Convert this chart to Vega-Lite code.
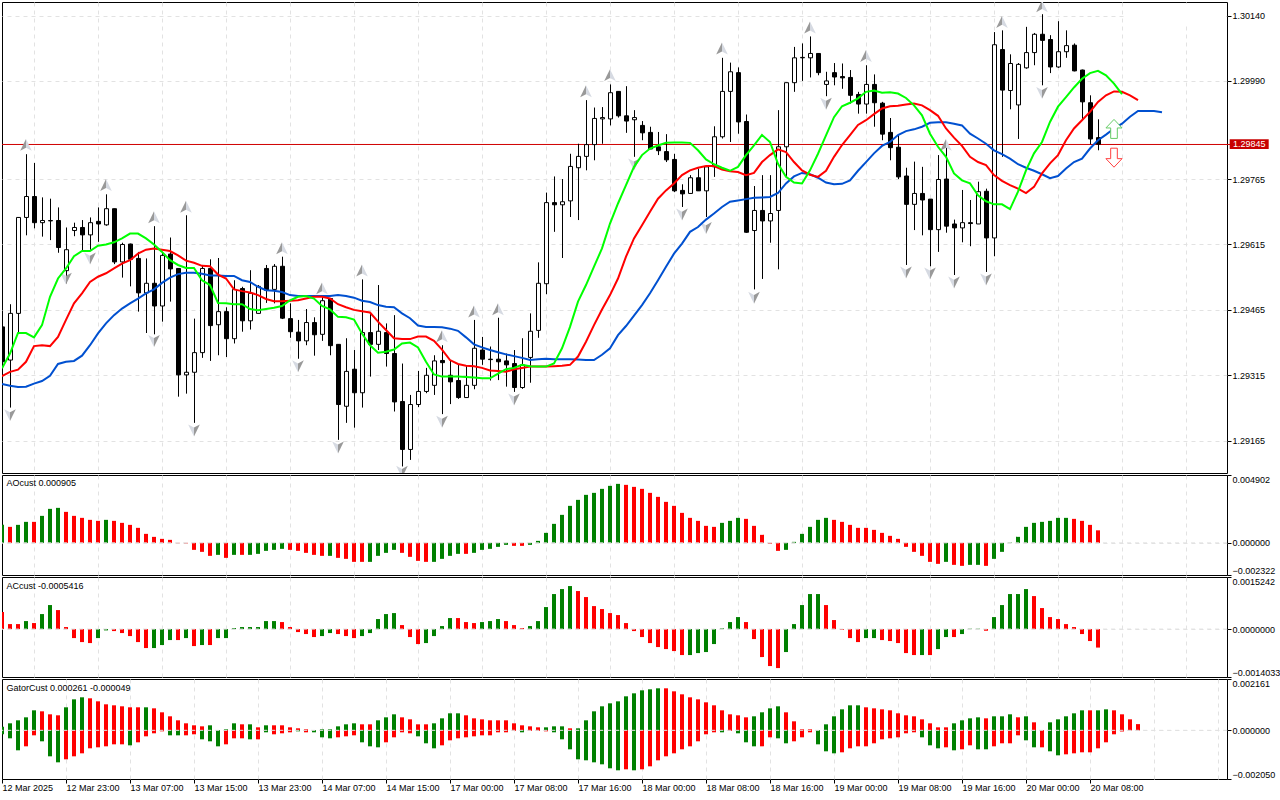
{
  "$schema": "https://vega.github.io/schema/vega-lite/v6.json",
  "description": "GBPUSD style hourly candles with alligator lines, AO, AC and Gator panels",
  "background": "#ffffff",
  "padding": {"left": 1, "top": 1, "right": 0, "bottom": 0},
  "spacing": 2,
  "bounds": "flush",
  "config": {
    "view": {"stroke": "#000000", "strokeWidth": 1},
    "axis": {
      "title": null,
      "domain": false,
      "gridColor": "#e2e2e2",
      "gridDash": [4, 4],
      "gridWidth": 1,
      "labelFont": "Liberation Sans",
      "labelFontSize": 9,
      "labelColor": "#000000",
      "labelOverlap": false,
      "labelBound": false,
      "tickColor": "#000000",
      "tickSize": 4,
      "labelPadding": 1
    },
    "text": {"font": "Liberation Sans", "fontSize": 9, "color": "#000000"}
  },
  "datasets": {
    "candles": [
      {"i":0,"o":1.29426,"h":1.29449,"l":1.29331,"c":1.29346},
      {"i":1,"o":1.29350,"h":1.29478,"l":1.29241,"c":1.29457},
      {"i":2,"o":1.29457,"h":1.29678,"l":1.29411,"c":1.29677},
      {"i":3,"o":1.29677,"h":1.29822,"l":1.29636,"c":1.29725},
      {"i":4,"o":1.29725,"h":1.29802,"l":1.29652,"c":1.29665},
      {"i":5,"o":1.29665,"h":1.29723,"l":1.29633,"c":1.29670},
      {"i":6,"o":1.29669,"h":1.29720,"l":1.29625,"c":1.29670},
      {"i":7,"o":1.29670,"h":1.29700,"l":1.29596,"c":1.29608},
      {"i":8,"o":1.29555,"h":1.29654,"l":1.29526,"c":1.29603},
      {"i":9,"o":1.29647,"h":1.29665,"l":1.29634,"c":1.29654},
      {"i":10,"o":1.29654,"h":1.29671,"l":1.29598,"c":1.29637},
      {"i":11,"o":1.29637,"h":1.29677,"l":1.29603,"c":1.29665},
      {"i":12,"o":1.29668,"h":1.29700,"l":1.29621,"c":1.29662},
      {"i":13,"o":1.29660,"h":1.29730,"l":1.29658,"c":1.29697},
      {"i":14,"o":1.29697,"h":1.29697,"l":1.29570,"c":1.29575},
      {"i":15,"o":1.29575,"h":1.29619,"l":1.29539,"c":1.29615},
      {"i":16,"o":1.29616,"h":1.29617,"l":1.29519,"c":1.29581},
      {"i":17,"o":1.29583,"h":1.29598,"l":1.29461,"c":1.29504},
      {"i":18,"o":1.29504,"h":1.29583,"l":1.29412,"c":1.29526},
      {"i":19,"o":1.29526,"h":1.29657,"l":1.29409,"c":1.29474},
      {"i":20,"o":1.29474,"h":1.29598,"l":1.29438,"c":1.29590},
      {"i":21,"o":1.29593,"h":1.29631,"l":1.29484,"c":1.29559},
      {"i":22,"o":1.29560,"h":1.29560,"l":1.29266,"c":1.29316},
      {"i":23,"o":1.29316,"h":1.29682,"l":1.29273,"c":1.29322},
      {"i":24,"o":1.29322,"h":1.29445,"l":1.29206,"c":1.29367},
      {"i":25,"o":1.29367,"h":1.29568,"l":1.29355,"c":1.29560},
      {"i":26,"o":1.29560,"h":1.29581,"l":1.29348,"c":1.29429},
      {"i":27,"o":1.29431,"h":1.29584,"l":1.29361,"c":1.29461},
      {"i":28,"o":1.29461,"h":1.29471,"l":1.29357,"c":1.29399},
      {"i":29,"o":1.29399,"h":1.29533,"l":1.29388,"c":1.29512},
      {"i":30,"o":1.29514,"h":1.29518,"l":1.29415,"c":1.29440},
      {"i":31,"o":1.29440,"h":1.29556,"l":1.29420,"c":1.29503},
      {"i":32,"o":1.29457,"h":1.29522,"l":1.29457,"c":1.29519},
      {"i":33,"o":1.29560,"h":1.29568,"l":1.29481,"c":1.29510},
      {"i":34,"o":1.29512,"h":1.29570,"l":1.29480,"c":1.29565},
      {"i":35,"o":1.29565,"h":1.29587,"l":1.29444,"c":1.29446},
      {"i":36,"o":1.29445,"h":1.29480,"l":1.29401,"c":1.29415},
      {"i":37,"o":1.29414,"h":1.29442,"l":1.29353,"c":1.29394},
      {"i":38,"o":1.29394,"h":1.29467,"l":1.29384,"c":1.29436},
      {"i":39,"o":1.29436,"h":1.29448,"l":1.29360,"c":1.29408},
      {"i":40,"o":1.29409,"h":1.29495,"l":1.29394,"c":1.29486},
      {"i":41,"o":1.29491,"h":1.29491,"l":1.29361,"c":1.29383},
      {"i":42,"o":1.29386,"h":1.29386,"l":1.29167,"c":1.29248},
      {"i":43,"o":1.29244,"h":1.29400,"l":1.29206,"c":1.29324},
      {"i":44,"o":1.29329,"h":1.29373,"l":1.29195,"c":1.29275},
      {"i":45,"o":1.29275,"h":1.29535,"l":1.29241,"c":1.29413},
      {"i":46,"o":1.29413,"h":1.29457,"l":1.29312,"c":1.29386},
      {"i":47,"o":1.29386,"h":1.29522,"l":1.29373,"c":1.29416},
      {"i":48,"o":1.29413,"h":1.29434,"l":1.29335,"c":1.29365},
      {"i":49,"o":1.29365,"h":1.29453,"l":1.29232,"c":1.29254},
      {"i":50,"o":1.29255,"h":1.29342,"l":1.29106,"c":1.29145},
      {"i":51,"o":1.29145,"h":1.29270,"l":1.29121,"c":1.29248},
      {"i":52,"o":1.29248,"h":1.29325,"l":1.29242,"c":1.29278},
      {"i":53,"o":1.29278,"h":1.29332,"l":1.29274,"c":1.29315},
      {"i":54,"o":1.29292,"h":1.29361,"l":1.29270,"c":1.29348},
      {"i":55,"o":1.29349,"h":1.29384,"l":1.29226,"c":1.29344},
      {"i":56,"o":1.29315,"h":1.29348,"l":1.29249,"c":1.29300},
      {"i":57,"o":1.29303,"h":1.29341,"l":1.29261,"c":1.29264},
      {"i":58,"o":1.29264,"h":1.29336,"l":1.29264,"c":1.29292},
      {"i":59,"o":1.29292,"h":1.29442,"l":1.29283,"c":1.29377},
      {"i":60,"o":1.29373,"h":1.29403,"l":1.29339,"c":1.29352},
      {"i":61,"o":1.29352,"h":1.29381,"l":1.29303,"c":1.29351},
      {"i":62,"o":1.29352,"h":1.29447,"l":1.29304,"c":1.29346},
      {"i":63,"o":1.29348,"h":1.29365,"l":1.29289,"c":1.29339},
      {"i":64,"o":1.29342,"h":1.29373,"l":1.29277,"c":1.29287},
      {"i":65,"o":1.29287,"h":1.29400,"l":1.29284,"c":1.29339},
      {"i":66,"o":1.29356,"h":1.29457,"l":1.29298,"c":1.29416},
      {"i":67,"o":1.29418,"h":1.29574,"l":1.29401,"c":1.29526},
      {"i":68,"o":1.29525,"h":1.29734,"l":1.29501,"c":1.29711},
      {"i":69,"o":1.29711,"h":1.29771,"l":1.29644,"c":1.29706},
      {"i":70,"o":1.29706,"h":1.29765,"l":1.29584,"c":1.29713},
      {"i":71,"o":1.29715,"h":1.29823,"l":1.29678,"c":1.29794},
      {"i":72,"o":1.29791,"h":1.29846,"l":1.29671,"c":1.29817},
      {"i":73,"o":1.29817,"h":1.29946,"l":1.29785,"c":1.29844},
      {"i":74,"o":1.29844,"h":1.29929,"l":1.29808,"c":1.29904},
      {"i":75,"o":1.29903,"h":1.29930,"l":1.29846,"c":1.29906},
      {"i":76,"o":1.29903,"h":1.29982,"l":1.29888,"c":1.29963},
      {"i":77,"o":1.29966,"h":1.29966,"l":1.29906,"c":1.29910},
      {"i":78,"o":1.29910,"h":1.29978,"l":1.29871,"c":1.29898},
      {"i":79,"o":1.29901,"h":1.29923,"l":1.29816,"c":1.29906},
      {"i":80,"o":1.29888,"h":1.29898,"l":1.29854,"c":1.29871},
      {"i":81,"o":1.29872,"h":1.29885,"l":1.29834,"c":1.29834},
      {"i":82,"o":1.29839,"h":1.29873,"l":1.29820,"c":1.29830},
      {"i":83,"o":1.29828,"h":1.29868,"l":1.29804,"c":1.29809},
      {"i":84,"o":1.29810,"h":1.29823,"l":1.29735,"c":1.29738},
      {"i":85,"o":1.29739,"h":1.29753,"l":1.29701,"c":1.29731},
      {"i":86,"o":1.29732,"h":1.29774,"l":1.29732,"c":1.29768},
      {"i":87,"o":1.29768,"h":1.29789,"l":1.29738,"c":1.29738},
      {"i":88,"o":1.29738,"h":1.29797,"l":1.29678,"c":1.29793},
      {"i":89,"o":1.29793,"h":1.29886,"l":1.29770,"c":1.29862},
      {"i":90,"o":1.29862,"h":1.30043,"l":1.29858,"c":1.29966},
      {"i":91,"o":1.29966,"h":1.30032,"l":1.29850,"c":1.30011},
      {"i":92,"o":1.30009,"h":1.30021,"l":1.29869,"c":1.29896},
      {"i":93,"o":1.29897,"h":1.29913,"l":1.29642,"c":1.29643},
      {"i":94,"o":1.29647,"h":1.29749,"l":1.29512,"c":1.29693},
      {"i":95,"o":1.29693,"h":1.29774,"l":1.29536,"c":1.29669},
      {"i":96,"o":1.29669,"h":1.29774,"l":1.29619,"c":1.29686},
      {"i":97,"o":1.29693,"h":1.29923,"l":1.29558,"c":1.29839},
      {"i":98,"o":1.29839,"h":1.29986,"l":1.29768,"c":1.29986},
      {"i":99,"o":1.29986,"h":1.30068,"l":1.29965,"c":1.30043},
      {"i":100,"o":1.30043,"h":1.30076,"l":1.29990,"c":1.30044},
      {"i":101,"o":1.30043,"h":1.30092,"l":1.29998,"c":1.30053},
      {"i":102,"o":1.30053,"h":1.30053,"l":1.30003,"c":1.30009},
      {"i":103,"o":1.29982,"h":1.30011,"l":1.29955,"c":1.29990},
      {"i":104,"o":1.30009,"h":1.30031,"l":1.29980,"c":1.29999},
      {"i":105,"o":1.30000,"h":1.30030,"l":1.29972,"c":1.29997},
      {"i":106,"o":1.29998,"h":1.30015,"l":1.29938,"c":1.29957},
      {"i":107,"o":1.29959,"h":1.29965,"l":1.29915,"c":1.29937},
      {"i":108,"o":1.29937,"h":1.30026,"l":1.29915,"c":1.29982},
      {"i":109,"o":1.29982,"h":1.30005,"l":1.29885,"c":1.29940},
      {"i":110,"o":1.29939,"h":1.29942,"l":1.29854,"c":1.29868},
      {"i":111,"o":1.29872,"h":1.29905,"l":1.29808,"c":1.29837},
      {"i":112,"o":1.29838,"h":1.29866,"l":1.29765,"c":1.29770},
      {"i":113,"o":1.29772,"h":1.29791,"l":1.29568,"c":1.29707},
      {"i":114,"o":1.29707,"h":1.29805,"l":1.29648,"c":1.29732},
      {"i":115,"o":1.29732,"h":1.29793,"l":1.29636,"c":1.29717},
      {"i":116,"o":1.29719,"h":1.29719,"l":1.29565,"c":1.29649},
      {"i":117,"o":1.29649,"h":1.29820,"l":1.29598,"c":1.29764},
      {"i":118,"o":1.29765,"h":1.29846,"l":1.29642,"c":1.29657},
      {"i":119,"o":1.29662,"h":1.29672,"l":1.29545,"c":1.29653},
      {"i":120,"o":1.29653,"h":1.29740,"l":1.29620,"c":1.29665},
      {"i":121,"o":1.29665,"h":1.29717,"l":1.29611,"c":1.29663},
      {"i":122,"o":1.29662,"h":1.29759,"l":1.29662,"c":1.29736},
      {"i":123,"o":1.29737,"h":1.29743,"l":1.29552,"c":1.29630},
      {"i":124,"o":1.29630,"h":1.30102,"l":1.29588,"c":1.30073},
      {"i":125,"o":1.30062,"h":1.30106,"l":1.29816,"c":1.29969},
      {"i":126,"o":1.29968,"h":1.30051,"l":1.29925,"c":1.30030},
      {"i":127,"o":1.29935,"h":1.30031,"l":1.29857,"c":1.30028},
      {"i":128,"o":1.30020,"h":1.30114,"l":1.30018,"c":1.30055},
      {"i":129,"o":1.30055,"h":1.30100,"l":1.30026,"c":1.30097},
      {"i":130,"o":1.30097,"h":1.30143,"l":1.29980,"c":1.30083},
      {"i":131,"o":1.30085,"h":1.30095,"l":1.30008,"c":1.30022},
      {"i":132,"o":1.30022,"h":1.30127,"l":1.30020,"c":1.30057},
      {"i":133,"o":1.30057,"h":1.30106,"l":1.30043,"c":1.30071},
      {"i":134,"o":1.30072,"h":1.30076,"l":1.30012,"c":1.30013},
      {"i":135,"o":1.30015,"h":1.30016,"l":1.29901,"c":1.29942},
      {"i":136,"o":1.29940,"h":1.29957,"l":1.29845,"c":1.29857},
      {"i":137,"o":1.29860,"h":1.29902,"l":1.29831,"c":1.29845}
    ],
    "gator": [
      {"i":0,"jaw":1.29295,"teeth":1.29313,"lips":1.29331},{"i":1,"jaw":1.29291,"teeth":1.29323,"lips":1.29365},
      {"i":2,"jaw":1.29288,"teeth":1.29328,"lips":1.29412},{"i":3,"jaw":1.29289,"teeth":1.29346,"lips":1.29412},
      {"i":4,"jaw":1.29296,"teeth":1.29382,"lips":1.29402},{"i":5,"jaw":1.29302,"teeth":1.29384,"lips":1.29430},
      {"i":6,"jaw":1.29314,"teeth":1.29382,"lips":1.29495},{"i":7,"jaw":1.29341,"teeth":1.29403,"lips":1.29537},
      {"i":8,"jaw":1.29346,"teeth":1.29442,"lips":1.29560},{"i":9,"jaw":1.29348,"teeth":1.29480,"lips":1.29588},
      {"i":10,"jaw":1.29360,"teeth":1.29503,"lips":1.29600},{"i":11,"jaw":1.29384,"teeth":1.29529,"lips":1.29600},
      {"i":12,"jaw":1.29411,"teeth":1.29541,"lips":1.29612},{"i":13,"jaw":1.29434,"teeth":1.29549,"lips":1.29615},
      {"i":14,"jaw":1.29453,"teeth":1.29560,"lips":1.29620},{"i":15,"jaw":1.29468,"teeth":1.29571,"lips":1.29629},
      {"i":16,"jaw":1.29480,"teeth":1.29579,"lips":1.29640},{"i":17,"jaw":1.29491,"teeth":1.29594,"lips":1.29640},
      {"i":18,"jaw":1.29503,"teeth":1.29603,"lips":1.29629},{"i":19,"jaw":1.29512,"teeth":1.29606,"lips":1.29615},
      {"i":20,"jaw":1.29527,"teeth":1.29603,"lips":1.29598},{"i":21,"jaw":1.29539,"teeth":1.29600,"lips":1.29579},
      {"i":22,"jaw":1.29547,"teeth":1.29590,"lips":1.29568},{"i":23,"jaw":1.29550,"teeth":1.29578,"lips":1.29561},
      {"i":24,"jaw":1.29550,"teeth":1.29573,"lips":1.29561},{"i":25,"jaw":1.29548,"teeth":1.29566,"lips":1.29533},
      {"i":26,"jaw":1.29544,"teeth":1.29565,"lips":1.29522},{"i":27,"jaw":1.29544,"teeth":1.29546,"lips":1.29481},
      {"i":28,"jaw":1.29543,"teeth":1.29537,"lips":1.29480},{"i":29,"jaw":1.29543,"teeth":1.29512,"lips":1.29478},
      {"i":30,"jaw":1.29533,"teeth":1.29508,"lips":1.29478},{"i":31,"jaw":1.29529,"teeth":1.29505,"lips":1.29467},
      {"i":32,"jaw":1.29518,"teeth":1.29499,"lips":1.29464},{"i":33,"jaw":1.29510,"teeth":1.29490,"lips":1.29467},
      {"i":34,"jaw":1.29509,"teeth":1.29485,"lips":1.29470},{"i":35,"jaw":1.29506,"teeth":1.29485,"lips":1.29474},
      {"i":36,"jaw":1.29499,"teeth":1.29486,"lips":1.29487},{"i":37,"jaw":1.29497,"teeth":1.29487,"lips":1.29495},
      {"i":38,"jaw":1.29497,"teeth":1.29491,"lips":1.29497},{"i":39,"jaw":1.29497,"teeth":1.29495,"lips":1.29491},
      {"i":40,"jaw":1.29497,"teeth":1.29495,"lips":1.29474},{"i":41,"jaw":1.29497,"teeth":1.29491,"lips":1.29466},
      {"i":42,"jaw":1.29499,"teeth":1.29478,"lips":1.29449},{"i":43,"jaw":1.29497,"teeth":1.29471,"lips":1.29448},
      {"i":44,"jaw":1.29493,"teeth":1.29465,"lips":1.29443},{"i":45,"jaw":1.29486,"teeth":1.29462,"lips":1.29411},
      {"i":46,"jaw":1.29483,"teeth":1.29459,"lips":1.29384},{"i":47,"jaw":1.29476,"teeth":1.29438,"lips":1.29367},
      {"i":48,"jaw":1.29472,"teeth":1.29419,"lips":1.29369},{"i":49,"jaw":1.29471,"teeth":1.29400,"lips":1.29374},
      {"i":50,"jaw":1.29457,"teeth":1.29398,"lips":1.29388},{"i":51,"jaw":1.29446,"teeth":1.29398,"lips":1.29390},
      {"i":52,"jaw":1.29429,"teeth":1.29404,"lips":1.29379},{"i":53,"jaw":1.29426,"teeth":1.29404,"lips":1.29346},
      {"i":54,"jaw":1.29426,"teeth":1.29394,"lips":1.29317},{"i":55,"jaw":1.29425,"teeth":1.29374,"lips":1.29312},
      {"i":56,"jaw":1.29422,"teeth":1.29350,"lips":1.29312},{"i":57,"jaw":1.29417,"teeth":1.29341,"lips":1.29312},
      {"i":58,"jaw":1.29402,"teeth":1.29337,"lips":1.29311},{"i":59,"jaw":1.29386,"teeth":1.29336,"lips":1.29310},
      {"i":60,"jaw":1.29379,"teeth":1.29332,"lips":1.29308},{"i":61,"jaw":1.29373,"teeth":1.29326,"lips":1.29308},
      {"i":62,"jaw":1.29368,"teeth":1.29325,"lips":1.29319},{"i":63,"jaw":1.29363,"teeth":1.29323,"lips":1.29329},
      {"i":64,"jaw":1.29359,"teeth":1.29329,"lips":1.29332},{"i":65,"jaw":1.29355,"teeth":1.29332,"lips":1.29339},
      {"i":66,"jaw":1.29350,"teeth":1.29335,"lips":1.29336},{"i":67,"jaw":1.29352,"teeth":1.29335,"lips":1.29335},
      {"i":68,"jaw":1.29353,"teeth":1.29335,"lips":1.29335},{"i":69,"jaw":1.29352,"teeth":1.29336,"lips":1.29342},
      {"i":70,"jaw":1.29352,"teeth":1.29337,"lips":1.29377},{"i":71,"jaw":1.29352,"teeth":1.29339,"lips":1.29426},
      {"i":72,"jaw":1.29351,"teeth":1.29358,"lips":1.29484},{"i":73,"jaw":1.29350,"teeth":1.29392,"lips":1.29522},
      {"i":74,"jaw":1.29350,"teeth":1.29430,"lips":1.29564},{"i":75,"jaw":1.29362,"teeth":1.29466,"lips":1.29606},
      {"i":76,"jaw":1.29377,"teeth":1.29499,"lips":1.29663},{"i":77,"jaw":1.29407,"teeth":1.29537,"lips":1.29709},
      {"i":78,"jaw":1.29428,"teeth":1.29587,"lips":1.29751},{"i":79,"jaw":1.29452,"teeth":1.29629,"lips":1.29793},
      {"i":80,"jaw":1.29476,"teeth":1.29659,"lips":1.29820},{"i":81,"jaw":1.29503,"teeth":1.29690,"lips":1.29835},
      {"i":82,"jaw":1.29533,"teeth":1.29720,"lips":1.29842},{"i":83,"jaw":1.29564,"teeth":1.29739,"lips":1.29848},
      {"i":84,"jaw":1.29594,"teeth":1.29755,"lips":1.29849},{"i":85,"jaw":1.29617,"teeth":1.29774,"lips":1.29849},
      {"i":86,"jaw":1.29644,"teeth":1.29785,"lips":1.29848},{"i":87,"jaw":1.29655,"teeth":1.29791,"lips":1.29831},
      {"i":88,"jaw":1.29672,"teeth":1.29795,"lips":1.29810},{"i":89,"jaw":1.29686,"teeth":1.29795,"lips":1.29799},
      {"i":90,"jaw":1.29701,"teeth":1.29787,"lips":1.29791},{"i":91,"jaw":1.29713,"teeth":1.29783,"lips":1.29784},
      {"i":92,"jaw":1.29716,"teeth":1.29781,"lips":1.29793},{"i":93,"jaw":1.29719,"teeth":1.29774,"lips":1.29820},
      {"i":94,"jaw":1.29722,"teeth":1.29779,"lips":1.29842},{"i":95,"jaw":1.29723,"teeth":1.29804,"lips":1.29866},
      {"i":96,"jaw":1.29724,"teeth":1.29820,"lips":1.29850},{"i":97,"jaw":1.29733,"teeth":1.29833,"lips":1.29800},
      {"i":98,"jaw":1.29755,"teeth":1.29827,"lips":1.29770},{"i":99,"jaw":1.29771,"teeth":1.29804,"lips":1.29757},
      {"i":100,"jaw":1.29779,"teeth":1.29785,"lips":1.29755},{"i":101,"jaw":1.29776,"teeth":1.29775,"lips":1.29785},
      {"i":102,"jaw":1.29768,"teeth":1.29770,"lips":1.29823},{"i":103,"jaw":1.29757,"teeth":1.29784,"lips":1.29865},
      {"i":104,"jaw":1.29753,"teeth":1.29816,"lips":1.29907},{"i":105,"jaw":1.29754,"teeth":1.29843,"lips":1.29932},
      {"i":106,"jaw":1.29762,"teeth":1.29866,"lips":1.29940},{"i":107,"jaw":1.29784,"teeth":1.29889,"lips":1.29950},
      {"i":108,"jaw":1.29804,"teeth":1.29900,"lips":1.29965},{"i":109,"jaw":1.29824,"teeth":1.29914,"lips":1.29968},
      {"i":110,"jaw":1.29841,"teeth":1.29927,"lips":1.29963},{"i":111,"jaw":1.29850,"teeth":1.29932,"lips":1.29964},
      {"i":112,"jaw":1.29866,"teeth":1.29933,"lips":1.29961},{"i":113,"jaw":1.29875,"teeth":1.29936,"lips":1.29951},
      {"i":114,"jaw":1.29879,"teeth":1.29938,"lips":1.29934},{"i":115,"jaw":1.29885,"teeth":1.29934,"lips":1.29911},
      {"i":116,"jaw":1.29894,"teeth":1.29923,"lips":1.29869},{"i":117,"jaw":1.29895,"teeth":1.29910,"lips":1.29839},
      {"i":118,"jaw":1.29895,"teeth":1.29881,"lips":1.29816},{"i":119,"jaw":1.29892,"teeth":1.29860,"lips":1.29778},
      {"i":120,"jaw":1.29888,"teeth":1.29841,"lips":1.29762},{"i":121,"jaw":1.29869,"teeth":1.29816,"lips":1.29755},
      {"i":122,"jaw":1.29858,"teeth":1.29804,"lips":1.29728},{"i":123,"jaw":1.29846,"teeth":1.29797,"lips":1.29714},
      {"i":124,"jaw":1.29831,"teeth":1.29774,"lips":1.29707},{"i":125,"jaw":1.29822,"teeth":1.29761,"lips":1.29707},
      {"i":126,"jaw":1.29812,"teeth":1.29751,"lips":1.29696},{"i":127,"jaw":1.29799,"teeth":1.29743,"lips":1.29736},
      {"i":128,"jaw":1.29791,"teeth":1.29733,"lips":1.29785},{"i":129,"jaw":1.29784,"teeth":1.29747,"lips":1.29824},
      {"i":130,"jaw":1.29776,"teeth":1.29778,"lips":1.29850},{"i":131,"jaw":1.29767,"teeth":1.29801,"lips":1.29896},
      {"i":132,"jaw":1.29772,"teeth":1.29820,"lips":1.29931},{"i":133,"jaw":1.29789,"teeth":1.29854,"lips":1.29953},
      {"i":134,"jaw":1.29804,"teeth":1.29881,"lips":1.29975},{"i":135,"jaw":1.29812,"teeth":1.29900,"lips":1.29995},
      {"i":136,"jaw":1.29835,"teeth":1.29919,"lips":1.30008},{"i":137,"jaw":1.29854,"teeth":1.29942,"lips":1.30013},
      {"i":138,"jaw":1.29867,"teeth":1.29957,"lips":1.30003},{"i":139,"jaw":1.29881,"teeth":1.29966,"lips":1.29984},
      {"i":140,"jaw":1.29892,"teeth":1.29965,"lips":1.29960},{"i":141,"jaw":1.29908,"teeth":1.29957,"lips":null},
      {"i":142,"jaw":1.29921,"teeth":1.29946,"lips":null},{"i":143,"jaw":1.29921,"teeth":null,"lips":null},
      {"i":144,"jaw":1.29921,"teeth":null,"lips":null},{"i":145,"jaw":1.29918,"teeth":null,"lips":null}
    ],
    "fractals": [
      {"i":3,"price":1.29843,"kind":"up"},{"i":13,"price":1.29751,"kind":"up"},{"i":19,"price":1.29677,"kind":"up"},
      {"i":23,"price":1.29701,"kind":"up"},{"i":35,"price":1.29606,"kind":"up"},{"i":40,"price":1.29514,"kind":"up"},
      {"i":45,"price":1.29555,"kind":"up"},{"i":55,"price":1.29404,"kind":"up"},{"i":59,"price":1.29461,"kind":"up"},
      {"i":62,"price":1.29466,"kind":"up"},{"i":73,"price":1.29966,"kind":"up"},{"i":76,"price":1.30003,"kind":"up"},
      {"i":90,"price":1.30064,"kind":"up"},{"i":101,"price":1.30112,"kind":"up"},{"i":108,"price":1.30047,"kind":"up"},
      {"i":118,"price":1.29843,"kind":"up"},{"i":125,"price":1.30125,"kind":"up"},{"i":130,"price":1.30161,"kind":"up"},
      {"i":1,"price":1.29224,"kind":"down"},{"i":8,"price":1.29537,"kind":"down"},{"i":11,"price":1.29583,"kind":"down"},
      {"i":19,"price":1.29394,"kind":"down"},{"i":24,"price":1.29189,"kind":"down"},{"i":37,"price":1.29336,"kind":"down"},
      {"i":42,"price":1.29150,"kind":"down"},{"i":50,"price":1.29094,"kind":"down"},{"i":55,"price":1.29209,"kind":"down"},
      {"i":64,"price":1.29260,"kind":"down"},{"i":79,"price":1.29799,"kind":"down"},{"i":85,"price":1.29684,"kind":"down"},
      {"i":88,"price":1.29653,"kind":"down"},{"i":94,"price":1.29493,"kind":"down"},{"i":103,"price":1.29938,"kind":"down"},
      {"i":113,"price":1.29551,"kind":"down"},{"i":116,"price":1.29549,"kind":"down"},{"i":119,"price":1.29528,"kind":"down"},
      {"i":123,"price":1.29535,"kind":"down"},{"i":130,"price":1.29963,"kind":"down"}
    ],
    "osc": [
      {"i":0,"ao":0.0013,"aod":"u","ac":0.000498,"acd":"d"},{"i":1,"ao":0.001156,"aod":"d","ac":0.000146,"acd":"d"},
      {"i":2,"ao":0.0013,"aod":"u","ac":0.000146,"acd":"d"},{"i":3,"ao":0.001517,"aod":"u","ac":0.000234,"acd":"u"},
      {"i":4,"ao":0.001517,"aod":"d","ac":0.000176,"acd":"d"},{"i":5,"ao":0.00195,"aod":"u","ac":0.000439,"acd":"u"},
      {"i":6,"ao":0.002456,"aod":"u","ac":0.000703,"acd":"u"},{"i":7,"ao":0.002528,"aod":"u","ac":0.000556,"acd":"d"},
      {"i":8,"ao":0.002239,"aod":"d","ac":0.000059,"acd":"d"},{"i":9,"ao":0.00195,"aod":"d","ac":-0.000264,"acd":"d"},
      {"i":10,"ao":0.001806,"aod":"d","ac":-0.000381,"acd":"d"},{"i":11,"ao":0.001662,"aod":"d","ac":-0.00041,"acd":"d"},
      {"i":12,"ao":0.001589,"aod":"d","ac":-0.000264,"acd":"u"},{"i":13,"ao":0.001662,"aod":"u","ac":-0.000039,"acd":"u"},
      {"i":14,"ao":0.001589,"aod":"d","ac":-0.000059,"acd":"d"},{"i":15,"ao":0.001445,"aod":"d","ac":-0.000117,"acd":"d"},
      {"i":16,"ao":0.0013,"aod":"d","ac":-0.000205,"acd":"d"},{"i":17,"ao":0.001084,"aod":"d","ac":-0.000381,"acd":"d"},
      {"i":18,"ao":0.00065,"aod":"d","ac":-0.000556,"acd":"d"},{"i":19,"ao":0.000433,"aod":"d","ac":-0.000556,"acd":"u"},
      {"i":20,"ao":0.000289,"aod":"d","ac":-0.000468,"acd":"u"},{"i":21,"ao":0.000217,"aod":"d","ac":-0.000322,"acd":"u"},
      {"i":22,"ao":-0.00002,"aod":"d","ac":-0.000322,"acd":"d"},{"i":23,"ao":-0.00003,"aod":"d","ac":-0.000264,"acd":"u"},
      {"i":24,"ao":-0.000506,"aod":"d","ac":-0.000498,"acd":"d"},{"i":25,"ao":-0.00065,"aod":"d","ac":-0.000468,"acd":"u"},
      {"i":26,"ao":-0.000939,"aod":"d","ac":-0.000468,"acd":"d"},{"i":27,"ao":-0.000867,"aod":"u","ac":-0.000264,"acd":"u"},
      {"i":28,"ao":-0.001084,"aod":"d","ac":-0.000264,"acd":"u"},{"i":29,"ao":-0.000867,"aod":"u","ac":0.000029,"acd":"u"},
      {"i":30,"ao":-0.000867,"aod":"d","ac":0.000059,"acd":"u"},{"i":31,"ao":-0.000867,"aod":"u","ac":0.000059,"acd":"u"},
      {"i":32,"ao":-0.000795,"aod":"u","ac":0.000059,"acd":"u"},{"i":33,"ao":-0.000578,"aod":"u","ac":0.000234,"acd":"u"},
      {"i":34,"ao":-0.000506,"aod":"u","ac":0.000234,"acd":"u"},{"i":35,"ao":-0.000433,"aod":"u","ac":0.000205,"acd":"d"},
      {"i":36,"ao":-0.000506,"aod":"d","ac":0.000059,"acd":"d"},{"i":37,"ao":-0.000578,"aod":"d","ac":-0.000088,"acd":"d"},
      {"i":38,"ao":-0.000722,"aod":"d","ac":-0.000146,"acd":"d"},{"i":39,"ao":-0.000867,"aod":"d","ac":-0.000234,"acd":"d"},
      {"i":40,"ao":-0.000939,"aod":"d","ac":-0.000205,"acd":"u"},{"i":41,"ao":-0.000939,"aod":"u","ac":-0.000117,"acd":"u"},
      {"i":42,"ao":-0.001084,"aod":"d","ac":-0.000146,"acd":"d"},{"i":43,"ao":-0.001156,"aod":"d","ac":-0.000205,"acd":"d"},
      {"i":44,"ao":-0.001373,"aod":"d","ac":-0.000264,"acd":"d"},{"i":45,"ao":-0.001373,"aod":"d","ac":-0.000205,"acd":"u"},
      {"i":46,"ao":-0.001373,"aod":"u","ac":-0.000117,"acd":"u"},{"i":47,"ao":-0.000939,"aod":"u","ac":0.000293,"acd":"u"},
      {"i":48,"ao":-0.000722,"aod":"u","ac":0.000439,"acd":"u"},{"i":49,"ao":-0.000506,"aod":"u","ac":0.000468,"acd":"u"},
      {"i":50,"ao":-0.000722,"aod":"d","ac":0.000117,"acd":"d"},{"i":51,"ao":-0.001011,"aod":"d","ac":-0.000234,"acd":"d"},
      {"i":52,"ao":-0.0013,"aod":"d","ac":-0.000439,"acd":"d"},{"i":53,"ao":-0.001373,"aod":"d","ac":-0.00041,"acd":"u"},
      {"i":54,"ao":-0.001373,"aod":"u","ac":-0.000205,"acd":"u"},{"i":55,"ao":-0.001156,"aod":"u","ac":0.000088,"acd":"u"},
      {"i":56,"ao":-0.000939,"aod":"u","ac":0.000322,"acd":"u"},{"i":57,"ao":-0.000795,"aod":"u","ac":0.000322,"acd":"d"},
      {"i":58,"ao":-0.000795,"aod":"d","ac":0.000205,"acd":"d"},{"i":59,"ao":-0.000722,"aod":"u","ac":0.000176,"acd":"d"},
      {"i":60,"ao":-0.000506,"aod":"u","ac":0.000205,"acd":"u"},{"i":61,"ao":-0.000433,"aod":"u","ac":0.000234,"acd":"u"},
      {"i":62,"ao":-0.000289,"aod":"u","ac":0.000293,"acd":"u"},{"i":63,"ao":-0.000144,"aod":"u","ac":0.000234,"acd":"d"},
      {"i":64,"ao":-0.000217,"aod":"d","ac":0.000117,"acd":"d"},{"i":65,"ao":-0.000217,"aod":"d","ac":0.000029,"acd":"d"},
      {"i":66,"ao":-0.000144,"aod":"u","ac":0.000088,"acd":"u"},{"i":67,"ao":0.000144,"aod":"u","ac":0.000234,"acd":"u"},
      {"i":68,"ao":0.000722,"aod":"u","ac":0.000644,"acd":"u"},{"i":69,"ao":0.001373,"aod":"u","ac":0.001025,"acd":"u"},
      {"i":70,"ao":0.002023,"aod":"u","ac":0.001171,"acd":"u"},{"i":71,"ao":0.002673,"aod":"u","ac":0.001259,"acd":"u"},
      {"i":72,"ao":0.003106,"aod":"u","ac":0.001113,"acd":"d"},{"i":73,"ao":0.003468,"aod":"u","ac":0.000937,"acd":"d"},
      {"i":74,"ao":0.003612,"aod":"u","ac":0.000673,"acd":"d"},{"i":75,"ao":0.003901,"aod":"u","ac":0.000586,"acd":"d"},
      {"i":76,"ao":0.004118,"aod":"u","ac":0.000468,"acd":"d"},{"i":77,"ao":0.004262,"aod":"u","ac":0.00041,"acd":"d"},
      {"i":78,"ao":0.00419,"aod":"d","ac":0.000176,"acd":"d"},{"i":79,"ao":0.004045,"aod":"d","ac":-0.000059,"acd":"d"},
      {"i":80,"ao":0.003901,"aod":"d","ac":-0.000234,"acd":"d"},{"i":81,"ao":0.003612,"aod":"d","ac":-0.00041,"acd":"d"},
      {"i":82,"ao":0.003323,"aod":"d","ac":-0.000527,"acd":"d"},{"i":83,"ao":0.002962,"aod":"d","ac":-0.000586,"acd":"d"},
      {"i":84,"ao":0.002673,"aod":"d","ac":-0.000644,"acd":"d"},{"i":85,"ao":0.002167,"aod":"d","ac":-0.000761,"acd":"d"},
      {"i":86,"ao":0.001806,"aod":"d","ac":-0.000761,"acd":"u"},{"i":87,"ao":0.001589,"aod":"d","ac":-0.000703,"acd":"u"},
      {"i":88,"ao":0.001228,"aod":"d","ac":-0.000673,"acd":"u"},{"i":89,"ao":0.001156,"aod":"d","ac":-0.000439,"acd":"u"},
      {"i":90,"ao":0.001445,"aod":"u","ac":0.00002,"acd":"u"},{"i":91,"ao":0.001589,"aod":"u","ac":0.000205,"acd":"u"},
      {"i":92,"ao":0.001806,"aod":"u","ac":0.000351,"acd":"u"},{"i":93,"ao":0.001734,"aod":"d","ac":0.000205,"acd":"d"},
      {"i":94,"ao":0.001228,"aod":"d","ac":-0.000293,"acd":"d"},{"i":95,"ao":0.000578,"aod":"d","ac":-0.00082,"acd":"d"},
      {"i":96,"ao":-0.000048,"aod":"d","ac":-0.001083,"acd":"d"},{"i":97,"ao":-0.000578,"aod":"d","ac":-0.001142,"acd":"d"},
      {"i":98,"ao":-0.000506,"aod":"u","ac":-0.000673,"acd":"u"},{"i":99,"ao":0.000072,"aod":"u","ac":0.000146,"acd":"u"},
      {"i":100,"ao":0.00065,"aod":"u","ac":0.000703,"acd":"u"},{"i":101,"ao":0.001156,"aod":"u","ac":0.001025,"acd":"u"},
      {"i":102,"ao":0.001662,"aod":"u","ac":0.001025,"acd":"u"},{"i":103,"ao":0.001806,"aod":"u","ac":0.000703,"acd":"d"},
      {"i":104,"ao":0.001662,"aod":"d","ac":0.000264,"acd":"d"},{"i":105,"ao":0.001517,"aod":"d","ac":-0.00002,"acd":"d"},
      {"i":106,"ao":0.0013,"aod":"d","ac":-0.000264,"acd":"d"},{"i":107,"ao":0.001084,"aod":"d","ac":-0.000381,"acd":"d"},
      {"i":108,"ao":0.001084,"aod":"d","ac":-0.000264,"acd":"u"},{"i":109,"ao":0.000939,"aod":"d","ac":-0.000264,"acd":"u"},
      {"i":110,"ao":0.000722,"aod":"d","ac":-0.000322,"acd":"d"},{"i":111,"ao":0.000506,"aod":"d","ac":-0.000351,"acd":"d"},
      {"i":112,"ao":0.000289,"aod":"d","ac":-0.00041,"acd":"d"},{"i":113,"ao":-0.000289,"aod":"d","ac":-0.000703,"acd":"d"},
      {"i":114,"ao":-0.00065,"aod":"d","ac":-0.000761,"acd":"d"},{"i":115,"ao":-0.000939,"aod":"d","ac":-0.000761,"acd":"u"},
      {"i":116,"ao":-0.001373,"aod":"d","ac":-0.000761,"acd":"d"},{"i":117,"ao":-0.001517,"aod":"d","ac":-0.000586,"acd":"u"},
      {"i":118,"ao":-0.001373,"aod":"u","ac":-0.000234,"acd":"u"},{"i":119,"ao":-0.001589,"aod":"d","ac":-0.000234,"acd":"d"},
      {"i":120,"ao":-0.001662,"aod":"d","ac":-0.000146,"acd":"u"},{"i":121,"ao":-0.001589,"aod":"u","ac":0.00001,"acd":"u"},
      {"i":122,"ao":-0.001589,"aod":"u","ac":0.00001,"acd":"u"},{"i":123,"ao":-0.001662,"aod":"d","ac":-0.000049,"acd":"d"},
      {"i":124,"ao":-0.001156,"aod":"u","ac":0.000351,"acd":"u"},{"i":125,"ao":-0.00065,"aod":"u","ac":0.000703,"acd":"u"},
      {"i":126,"ao":0.000024,"aod":"u","ac":0.001025,"acd":"u"},{"i":127,"ao":0.000433,"aod":"u","ac":0.001025,"acd":"u"},
      {"i":128,"ao":0.001156,"aod":"u","ac":0.001171,"acd":"u"},{"i":129,"ao":0.001445,"aod":"u","ac":0.000966,"acd":"d"},
      {"i":130,"ao":0.001517,"aod":"u","ac":0.000615,"acd":"d"},{"i":131,"ao":0.001589,"aod":"u","ac":0.000351,"acd":"d"},
      {"i":132,"ao":0.001806,"aod":"u","ac":0.000293,"acd":"d"},{"i":133,"ao":0.001806,"aod":"u","ac":0.000146,"acd":"d"},
      {"i":134,"ao":0.001734,"aod":"d","ac":0.000059,"acd":"d"},{"i":135,"ao":0.001589,"aod":"d","ac":-0.000146,"acd":"d"},
      {"i":136,"ao":0.0013,"aod":"d","ac":-0.000351,"acd":"d"},{"i":137,"ao":0.000905,"aod":"d","ac":-0.000542,"acd":"d"}
    ],
    "gatorhist": [
      {"i":0,"up":0.000154,"upd":"u","dn":-0.000168,"dnd":"u"},{"i":1,"up":0.000295,"upd":"u","dn":-0.000337,"dnd":"u"},
      {"i":2,"up":0.000421,"upd":"u","dn":-0.000842,"dnd":"u"},{"i":3,"up":0.000547,"upd":"u","dn":-0.000674,"dnd":"d"},
      {"i":4,"up":0.000842,"upd":"u","dn":-0.000211,"dnd":"d"},{"i":5,"up":0.0008,"upd":"d","dn":-0.000463,"dnd":"u"},
      {"i":6,"up":0.000674,"upd":"d","dn":-0.001095,"dnd":"u"},{"i":7,"up":0.000632,"upd":"d","dn":-0.001348,"dnd":"u"},
      {"i":8,"up":0.000969,"upd":"u","dn":-0.001221,"dnd":"d"},{"i":9,"up":0.001305,"upd":"u","dn":-0.001095,"dnd":"d"},
      {"i":10,"up":0.00139,"upd":"u","dn":-0.000969,"dnd":"d"},{"i":11,"up":0.001348,"upd":"d","dn":-0.000758,"dnd":"d"},
      {"i":12,"up":0.001221,"upd":"d","dn":-0.000716,"dnd":"d"},{"i":13,"up":0.001095,"upd":"d","dn":-0.000674,"dnd":"d"},
      {"i":14,"up":0.001053,"upd":"d","dn":-0.00059,"dnd":"d"},{"i":15,"up":0.001011,"upd":"d","dn":-0.00059,"dnd":"d"},
      {"i":16,"up":0.000969,"upd":"d","dn":-0.000632,"dnd":"u"},{"i":17,"up":0.000969,"upd":"d","dn":-0.000505,"dnd":"d"},
      {"i":18,"up":0.000969,"upd":"u","dn":-0.000253,"dnd":"d"},{"i":19,"up":0.000926,"upd":"d","dn":-0.000126,"dnd":"d"},
      {"i":20,"up":0.000758,"upd":"d","dn":-0.000042,"dnd":"d"},{"i":21,"up":0.00059,"upd":"d","dn":-0.000211,"dnd":"u"},
      {"i":22,"up":0.000421,"upd":"d","dn":-0.000211,"dnd":"u"},{"i":23,"up":0.000295,"upd":"d","dn":-0.000211,"dnd":"d"},
      {"i":24,"up":0.000211,"upd":"d","dn":-0.000168,"dnd":"d"},{"i":25,"up":0.000168,"upd":"d","dn":-0.000379,"dnd":"u"},
      {"i":26,"up":0.000211,"upd":"u","dn":-0.000463,"dnd":"u"},{"i":27,"up":0.000014,"upd":"u","dn":-0.000674,"dnd":"u"},
      {"i":28,"up":0.000042,"upd":"u","dn":-0.00059,"dnd":"d"},{"i":29,"up":0.000295,"upd":"u","dn":-0.000337,"dnd":"d"},
      {"i":30,"up":0.000253,"upd":"d","dn":-0.000337,"dnd":"d"},{"i":31,"up":0.000253,"upd":"u","dn":-0.000379,"dnd":"u"},
      {"i":32,"up":0.000126,"upd":"d","dn":-0.000379,"dnd":"d"},{"i":33,"up":0.000211,"upd":"u","dn":-0.000084,"dnd":"u"},
      {"i":34,"up":0.000211,"upd":"d","dn":-0.000168,"dnd":"d"},{"i":35,"up":0.000211,"upd":"d","dn":-0.000126,"dnd":"d"},
      {"i":36,"up":0.000126,"upd":"d","dn":-0.000084,"dnd":"d"},{"i":37,"up":0.000084,"upd":"d","dn":-0.000042,"dnd":"u"},
      {"i":38,"up":0.000042,"upd":"d","dn":-0.000084,"dnd":"d"},{"i":39,"up":0.000014,"upd":"u","dn":-0.000084,"dnd":"u"},
      {"i":40,"up":0.000042,"upd":"u","dn":-0.000295,"dnd":"u"},{"i":41,"up":0.000042,"upd":"u","dn":-0.000337,"dnd":"u"},
      {"i":42,"up":0.000168,"upd":"u","dn":-0.000295,"dnd":"d"},{"i":43,"up":0.000253,"upd":"u","dn":-0.000253,"dnd":"d"},
      {"i":44,"up":0.000295,"upd":"u","dn":-0.000211,"dnd":"d"},{"i":45,"up":0.000253,"upd":"d","dn":-0.000505,"dnd":"u"},
      {"i":46,"up":0.000253,"upd":"d","dn":-0.000674,"dnd":"u"},{"i":47,"up":0.000421,"upd":"u","dn":-0.000716,"dnd":"u"},
      {"i":48,"up":0.000547,"upd":"u","dn":-0.000505,"dnd":"d"},{"i":49,"up":0.000674,"upd":"u","dn":-0.000295,"dnd":"d"},
      {"i":50,"up":0.000547,"upd":"d","dn":-0.000084,"dnd":"d"},{"i":51,"up":0.000463,"upd":"d","dn":-0.000126,"dnd":"d"},
      {"i":52,"up":0.000253,"upd":"d","dn":-0.000253,"dnd":"u"},{"i":53,"up":0.000253,"upd":"d","dn":-0.000547,"dnd":"u"},
      {"i":54,"up":0.000295,"upd":"u","dn":-0.000758,"dnd":"u"},{"i":55,"up":0.000505,"upd":"u","dn":-0.000632,"dnd":"d"},
      {"i":56,"up":0.000716,"upd":"u","dn":-0.000421,"dnd":"d"},{"i":57,"up":0.000716,"upd":"u","dn":-0.000337,"dnd":"d"},
      {"i":58,"up":0.000632,"upd":"d","dn":-0.000295,"dnd":"d"},{"i":59,"up":0.000505,"upd":"d","dn":-0.000253,"dnd":"d"},
      {"i":60,"up":0.000463,"upd":"d","dn":-0.000211,"dnd":"d"},{"i":61,"up":0.000421,"upd":"d","dn":-0.000211,"dnd":"d"},
      {"i":62,"up":0.000421,"upd":"d","dn":-0.000084,"dnd":"d"},{"i":63,"up":0.000421,"upd":"d","dn":-0.000084,"dnd":"d"},
      {"i":64,"up":0.000295,"upd":"d","dn":-0.000028,"dnd":"d"},{"i":65,"up":0.000211,"upd":"d","dn":-0.000084,"dnd":"u"},
      {"i":66,"up":0.000168,"upd":"d","dn":-0.000028,"dnd":"d"},{"i":67,"up":0.000126,"upd":"d","dn":-0.000028,"dnd":"d"},
      {"i":68,"up":0.000126,"upd":"u","dn":-0.000042,"dnd":"d"},{"i":69,"up":0.000168,"upd":"u","dn":-0.000084,"dnd":"u"},
      {"i":70,"up":0.000168,"upd":"u","dn":-0.000379,"dnd":"u"},{"i":71,"up":0.000084,"upd":"d","dn":-0.0008,"dnd":"u"},
      {"i":72,"up":0.000084,"upd":"u","dn":-0.001221,"dnd":"u"},{"i":73,"up":0.000421,"upd":"u","dn":-0.001263,"dnd":"u"},
      {"i":74,"up":0.0008,"upd":"u","dn":-0.001348,"dnd":"u"},{"i":75,"up":0.001011,"upd":"u","dn":-0.001432,"dnd":"u"},
      {"i":76,"up":0.001137,"upd":"u","dn":-0.0016,"dnd":"u"},{"i":77,"up":0.001221,"upd":"u","dn":-0.001684,"dnd":"u"},
      {"i":78,"up":0.001432,"upd":"u","dn":-0.001642,"dnd":"d"},{"i":79,"up":0.001558,"upd":"u","dn":-0.001684,"dnd":"u"},
      {"i":80,"up":0.001684,"upd":"u","dn":-0.001642,"dnd":"d"},{"i":81,"up":0.001727,"upd":"u","dn":-0.001516,"dnd":"d"},
      {"i":82,"up":0.001769,"upd":"u","dn":-0.001263,"dnd":"d"},{"i":83,"up":0.001769,"upd":"d","dn":-0.001095,"dnd":"d"},
      {"i":84,"up":0.001642,"upd":"d","dn":-0.000969,"dnd":"d"},{"i":85,"up":0.001516,"upd":"d","dn":-0.0008,"dnd":"d"},
      {"i":86,"up":0.00139,"upd":"d","dn":-0.000674,"dnd":"d"},{"i":87,"up":0.001305,"upd":"d","dn":-0.000463,"dnd":"d"},
      {"i":88,"up":0.001179,"upd":"d","dn":-0.000168,"dnd":"d"},{"i":89,"up":0.001053,"upd":"d","dn":-0.000084,"dnd":"d"},
      {"i":90,"up":0.000842,"upd":"d","dn":-0.000084,"dnd":"u"},{"i":91,"up":0.000674,"upd":"d","dn":-0.000028,"dnd":"d"},
      {"i":92,"up":0.000632,"upd":"d","dn":-0.000126,"dnd":"u"},{"i":93,"up":0.000547,"upd":"d","dn":-0.000505,"dnd":"u"},
      {"i":94,"up":0.00059,"upd":"u","dn":-0.000674,"dnd":"u"},{"i":95,"up":0.000758,"upd":"u","dn":-0.000674,"dnd":"d"},
      {"i":96,"up":0.000926,"upd":"u","dn":-0.000295,"dnd":"d"},{"i":97,"up":0.001011,"upd":"u","dn":-0.000337,"dnd":"u"},
      {"i":98,"up":0.000758,"upd":"d","dn":-0.000547,"dnd":"u"},{"i":99,"up":0.000379,"upd":"d","dn":-0.000463,"dnd":"d"},
      {"i":100,"up":0.000042,"upd":"d","dn":-0.000295,"dnd":"d"},{"i":101,"up":0.000042,"upd":"d","dn":-0.000084,"dnd":"d"},
      {"i":102,"up":0.000014,"upd":"u","dn":-0.00059,"dnd":"u"},{"i":103,"up":0.000253,"upd":"u","dn":-0.000884,"dnd":"u"},
      {"i":104,"up":0.00059,"upd":"u","dn":-0.000969,"dnd":"u"},{"i":105,"up":0.000884,"upd":"u","dn":-0.000926,"dnd":"d"},
      {"i":106,"up":0.001053,"upd":"u","dn":-0.000758,"dnd":"d"},{"i":107,"up":0.001053,"upd":"u","dn":-0.000674,"dnd":"d"},
      {"i":108,"up":0.000969,"upd":"d","dn":-0.000674,"dnd":"d"},{"i":109,"up":0.000926,"upd":"d","dn":-0.000547,"dnd":"d"},
      {"i":110,"up":0.000884,"upd":"d","dn":-0.000379,"dnd":"d"},{"i":111,"up":0.000842,"upd":"d","dn":-0.000337,"dnd":"d"},
      {"i":112,"up":0.000716,"upd":"d","dn":-0.000295,"dnd":"d"},{"i":113,"up":0.000632,"upd":"d","dn":-0.000126,"dnd":"d"},
      {"i":114,"up":0.00059,"upd":"d","dn":-0.000084,"dnd":"d"},{"i":115,"up":0.000463,"upd":"d","dn":-0.000295,"dnd":"u"},
      {"i":116,"up":0.000295,"upd":"d","dn":-0.000632,"dnd":"u"},{"i":117,"up":0.000126,"upd":"d","dn":-0.000758,"dnd":"u"},
      {"i":118,"up":0.000126,"upd":"d","dn":-0.000716,"dnd":"d"},{"i":119,"up":0.000295,"upd":"u","dn":-0.000842,"dnd":"u"},
      {"i":120,"up":0.000421,"upd":"u","dn":-0.0008,"dnd":"d"},{"i":121,"up":0.000505,"upd":"u","dn":-0.000632,"dnd":"d"},
      {"i":122,"up":0.000547,"upd":"u","dn":-0.0008,"dnd":"u"},{"i":123,"up":0.000505,"upd":"d","dn":-0.0008,"dnd":"u"},
      {"i":124,"up":0.00059,"upd":"u","dn":-0.000674,"dnd":"d"},{"i":125,"up":0.00059,"upd":"u","dn":-0.000547,"dnd":"d"},
      {"i":126,"up":0.000674,"upd":"u","dn":-0.000547,"dnd":"d"},{"i":127,"up":0.000547,"upd":"d","dn":-0.000211,"dnd":"d"},
      {"i":128,"up":0.00059,"upd":"u","dn":-0.000421,"dnd":"u"},{"i":129,"up":0.000337,"upd":"d","dn":-0.000716,"dnd":"u"},
      {"i":130,"up":0.000014,"upd":"d","dn":-0.000716,"dnd":"d"},{"i":131,"up":0.000337,"upd":"u","dn":-0.000884,"dnd":"u"},
      {"i":132,"up":0.000463,"upd":"u","dn":-0.001053,"dnd":"u"},{"i":133,"up":0.00059,"upd":"u","dn":-0.001011,"dnd":"d"},
      {"i":134,"up":0.000716,"upd":"u","dn":-0.000969,"dnd":"d"},{"i":135,"up":0.000842,"upd":"u","dn":-0.000926,"dnd":"d"},
      {"i":136,"up":0.000842,"upd":"d","dn":-0.000926,"dnd":"d"},{"i":137,"up":0.000842,"upd":"u","dn":-0.000758,"dnd":"d"},
      {"i":138,"up":0.000884,"upd":"u","dn":-0.000505,"dnd":"d"},{"i":139,"up":0.000842,"upd":"d","dn":-0.000168,"dnd":"d"},
      {"i":140,"up":0.000674,"upd":"d","dn":-0.000049,"dnd":"d"},{"i":141,"up":0.000463,"upd":"d","dn":0,"dnd":"d"},
      {"i":142,"up":0.000261,"upd":"d","dn":0,"dnd":"d"}
    ]
  },
  "vconcat": [
    {
      "width": 1225,
      "height": 471,
      "layer": [
        {
          "data": {"values": [{"price": 1.29845}]},
          "mark": {"type": "rule", "color": "#d00000", "strokeWidth": 1, "clip": false, "yOffset": 0.3},
          "encoding": {
            "x": {"datum": 0, "type": "quantitative", "scale": {"domain": [0, 153.125], "nice": false, "zero": false, "padding": 0}},
            "x2": {"datum": 153.5},
            "y": {
              "field": "price",
              "type": "quantitative",
              "scale": {"domain": [1.29091, 1.30171], "nice": false, "zero": false},
              "axis": {
                "orient": "right",
                "values": [1.29165,1.2924,1.29315,1.2939,1.29465,1.2954,1.29615,1.2969,1.29765,1.29915,1.2999,1.30065,1.3014],
                "format": ".5f",
                "grid": true
              }
            }
          }
        },
        {
          "data": {"values": [{"note": "clear corner"}]},
          "mark": {"type": "rect", "color": "#ffffff", "clip": true},
          "encoding": {
            "x": {"datum": 140.6, "type": "quantitative"},
            "x2": {"datum": 153},
            "y": {"datum": 1.30116, "type": "quantitative"},
            "y2": {"datum": 1.30167}
          }
        },
        {
          "encoding": {
            "x": {
              "field": "i",
              "type": "quantitative",
              "scale": {"domain": [0, 153.125], "nice": false, "zero": false, "padding": 0},
              "axis": {
                "values": [4,8,12,16,20,24,28,32,36,40,44,48,52,56,60,64,68,72,76,80,84,88,92,96,100,104,108,112,116,120,124,128,132,136,140,144,148,152],
                "labels": false,
                "ticks": false,
                "grid": true
              }
            }
          },
          "layer": [
            {
              "data": {"name": "candles"},
              "mark": {"type": "rule", "color": "#000000", "strokeWidth": 1, "clip": true, "xOffset": 0.5},
              "encoding": {
                "y": {"field": "l", "type": "quantitative"},
                "y2": {"field": "h"}
              }
            },
            {
              "data": {"name": "candles"},
              "mark": {"type": "bar", "orient": "vertical", "width": 4, "stroke": "#000000", "strokeWidth": 1, "clip": true, "xOffset": 0.5},
              "encoding": {
                "y": {"field": "o", "type": "quantitative"},
                "y2": {"field": "c"},
                "fill": {"condition": {"test": "datum.c >= datum.o", "value": "#ffffff"}, "value": "#000000"}
              }
            },
            {
              "data": {"name": "fractals"},
              "transform": [{"filter": "datum.kind == 'up'"}],
              "mark": {"type": "point", "filled": true, "shape": "M0,-1L-0.95,0.95L0,0.45Z", "size": 150, "color": "#999999", "opacity": 1, "clip": true},
              "encoding": {"y": {"field": "price", "type": "quantitative"}}
            },
            {
              "data": {"name": "fractals"},
              "transform": [{"filter": "datum.kind == 'up'"}],
              "mark": {"type": "point", "filled": true, "shape": "M0,-1L0.95,0.95L0,0.45Z", "size": 150, "color": "#d6dae2", "opacity": 1, "clip": true},
              "encoding": {"y": {"field": "price", "type": "quantitative"}}
            },
            {
              "data": {"name": "fractals"},
              "transform": [{"filter": "datum.kind == 'down'"}],
              "mark": {"type": "point", "filled": true, "shape": "M0,1L-0.95,-0.95L0,-0.45Z", "size": 150, "color": "#d6dae2", "opacity": 1, "clip": true},
              "encoding": {"y": {"field": "price", "type": "quantitative"}}
            },
            {
              "data": {"name": "fractals"},
              "transform": [{"filter": "datum.kind == 'down'"}],
              "mark": {"type": "point", "filled": true, "shape": "M0,1L0.95,-0.95L0,-0.45Z", "size": 150, "color": "#999999", "opacity": 1, "clip": true},
              "encoding": {"y": {"field": "price", "type": "quantitative"}}
            },
            {
              "data": {"name": "gator"},
              "mark": {"type": "line", "color": "#0050d0", "strokeWidth": 2, "clip": true},
              "encoding": {"y": {"field": "jaw", "type": "quantitative"}}
            },
            {
              "data": {"name": "gator"},
              "mark": {"type": "line", "color": "#ff0000", "strokeWidth": 2, "clip": true},
              "encoding": {"y": {"field": "teeth", "type": "quantitative"}}
            },
            {
              "data": {"name": "gator"},
              "mark": {"type": "line", "color": "#00ff00", "strokeWidth": 2, "clip": true},
              "encoding": {"y": {"field": "lips", "type": "quantitative"}}
            },
            {
              "data": {"values": [{"i": 139, "price": 1.2988}]},
              "mark": {"type": "point", "filled": true, "shape": "M0,-1L0.85,-0.1L0.35,-0.1L0.35,1L-0.35,1L-0.35,-0.1L-0.85,-0.1Z", "size": 361, "fill": "#ffffff", "stroke": "#66cc66", "strokeWidth": 1, "opacity": 1},
              "encoding": {"y": {"field": "price", "type": "quantitative"}}
            },
            {
              "data": {"values": [{"i": 139, "price": 1.29814}]},
              "mark": {"type": "point", "filled": true, "shape": "M0,1L0.85,0.1L0.35,0.1L0.35,-1L-0.35,-1L-0.35,0.1L-0.85,0.1Z", "size": 361, "fill": "#ffffff", "stroke": "#ff4040", "strokeWidth": 1, "opacity": 1},
              "encoding": {"y": {"field": "price", "type": "quantitative"}}
            }
          ]
        },
        {
          "data": {"values": [{"price": 1.29845, "label": "1.29845"}]},
          "mark": {"type": "point", "filled": true, "shape": "M-1,-0.25H1V0.25H-1Z", "size": 1521, "color": "#c80000", "opacity": 1, "clip": false},
          "encoding": {
            "x": {"datum": 155.9, "type": "quantitative"},
            "y": {"field": "price", "type": "quantitative"}
          }
        },
        {
          "data": {"values": [{"price": 1.29845, "label": "1.29845"}]},
          "mark": {"type": "text", "color": "#ffffff", "align": "center", "baseline": "middle", "clip": false},
          "encoding": {
            "x": {"datum": 155.9, "type": "quantitative"},
            "y": {"field": "price", "type": "quantitative"},
            "text": {"field": "label"}
          }
        }
      ]
    },
    {
      "width": 1225,
      "height": 100,
      "layer": [
        {
          "data": {"name": "osc"},
          "mark": {"type": "bar", "orient": "vertical", "width": 4, "clip": true},
          "encoding": {
            "x": {
              "field": "i",
              "type": "quantitative",
              "scale": {"domain": [0, 153.125], "nice": false, "zero": false, "padding": 0},
              "axis": {
                "values": [4,8,12,16,20,24,28,32,36,40,44,48,52,56,60,64,68,72,76,80,84,88,92,96,100,104,108,112,116,120,124,128,132,136,140,144,148,152],
                "labels": false,
                "ticks": false,
                "grid": true
              }
            },
            "y": {
              "field": "ao",
              "type": "quantitative",
              "scale": {"domain": [-0.002322, 0.004902], "nice": false, "zero": false},
              "axis": {"orient": "right", "values": [-0.002322, 0, 0.004902], "format": ".6f", "grid": true, "gridOpacity": {"condition": {"test": "datum.value == 0", "value": 1}, "value": 0}, "labelFlush": true}
            },
            "y2": {"datum": 0},
            "color": {"field": "aod", "type": "nominal", "scale": {"domain": ["u", "d"], "range": ["#008000", "#ff0000"]}, "legend": null}
          }
        },
        {
          "data": {"values": [{"level": 0}]},
          "mark": {"type": "rule", "color": "#e2e2e2", "strokeDash": [4, 4], "strokeWidth": 1},
          "encoding": {"y": {"field": "level", "type": "quantitative"}}
        },
        {
          "data": {"values": [{"label": "AOcust 0.000905"}]},
          "mark": {"type": "text", "align": "left", "baseline": "middle"},
          "encoding": {
            "x": {"datum": 0.55, "type": "quantitative"},
            "y": {"datum": 0.00429, "type": "quantitative"},
            "text": {"field": "label"}
          }
        }
      ]
    },
    {
      "width": 1225,
      "height": 100,
      "layer": [
        {
          "data": {"name": "osc"},
          "mark": {"type": "bar", "orient": "vertical", "width": 4, "clip": true},
          "encoding": {
            "x": {
              "field": "i",
              "type": "quantitative",
              "scale": {"domain": [0, 153.125], "nice": false, "zero": false, "padding": 0},
              "axis": {
                "values": [4,8,12,16,20,24,28,32,36,40,44,48,52,56,60,64,68,72,76,80,84,88,92,96,100,104,108,112,116,120,124,128,132,136,140,144,148,152],
                "labels": false,
                "ticks": false,
                "grid": true
              }
            },
            "y": {
              "field": "ac",
              "type": "quantitative",
              "scale": {"domain": [-0.0014033, 0.0015242], "nice": false, "zero": false},
              "axis": {"orient": "right", "values": [-0.0014033, 0, 0.0015242], "format": ".7f", "grid": true, "gridOpacity": {"condition": {"test": "datum.value == 0", "value": 1}, "value": 0}, "labelFlush": true}
            },
            "y2": {"datum": 0},
            "color": {"field": "acd", "type": "nominal", "scale": {"domain": ["u", "d"], "range": ["#008000", "#ff0000"]}, "legend": null}
          }
        },
        {
          "data": {"values": [{"level": 0}]},
          "mark": {"type": "rule", "color": "#e2e2e2", "strokeDash": [4, 4], "strokeWidth": 1},
          "encoding": {"y": {"field": "level", "type": "quantitative"}}
        },
        {
          "data": {"values": [{"label": "ACcust -0.0005416"}]},
          "mark": {"type": "text", "align": "left", "baseline": "middle"},
          "encoding": {
            "x": {"datum": 0.55, "type": "quantitative"},
            "y": {"datum": 0.001256, "type": "quantitative"},
            "text": {"field": "label"}
          }
        }
      ]
    },
    {
      "width": 1225,
      "height": 100,
      "layer": [
        {
          "encoding": {
            "x": {
              "field": "i",
              "type": "quantitative",
              "scale": {"domain": [0, 153.125], "nice": false, "zero": false, "padding": 0},
              "axis": {
                "values": [0,4,8,12,16,20,24,28,32,36,40,44,48,52,56,60,64,68,72,76,80,84,88,92,96,100,104,108,112,116,120,124,128,132,136,140,144,148,152],
                "grid": true,
                "gridOpacity": {"condition": {"test": "datum.value > 0", "value": 1}, "value": 0},
                "labelAlign": "left",
                "labelFlush": false,
                "labelAngle": 0,
                "labelPadding": 0,
                "labelExpr": "['12 Mar 2025','12 Mar 23:00','13 Mar 07:00','13 Mar 15:00','13 Mar 23:00','14 Mar 07:00','14 Mar 15:00','17 Mar 00:00','17 Mar 08:00','17 Mar 16:00','18 Mar 00:00','18 Mar 08:00','18 Mar 16:00','19 Mar 00:00','19 Mar 08:00','19 Mar 16:00','20 Mar 00:00','20 Mar 08:00'][datum.value / 8] || ''",
                "tickSize": {"condition": {"test": "datum.value % 8 == 0 && datum.value <= 136", "value": 4}, "value": 0}
              }
            }
          },
          "layer": [
            {
              "data": {"name": "gatorhist"},
              "mark": {"type": "bar", "orient": "vertical", "width": 4, "clip": true},
              "encoding": {
                "y": {
                  "field": "up",
                  "type": "quantitative",
                  "scale": {"domain": [-0.00205, 0.002161], "nice": false, "zero": false},
                  "axis": {"orient": "right", "values": [-0.00205, 0, 0.002161], "format": ".6f", "grid": true, "gridOpacity": {"condition": {"test": "datum.value == 0", "value": 1}, "value": 0}, "labelFlush": true}
                },
                "y2": {"datum": 0},
                "color": {"field": "upd", "type": "nominal", "scale": {"domain": ["u", "d"], "range": ["#008000", "#ff0000"]}, "legend": null}
              }
            },
            {
              "data": {"name": "gatorhist"},
              "mark": {"type": "bar", "orient": "vertical", "width": 4, "clip": true},
              "encoding": {
                "y": {"field": "dn", "type": "quantitative"},
                "y2": {"datum": 0},
                "color": {"field": "dnd", "type": "nominal", "legend": null}
              }
            }
          ]
        },
        {
          "data": {"values": [{"level": 0}]},
          "mark": {"type": "rule", "color": "#e2e2e2", "strokeDash": [4, 4], "strokeWidth": 1},
          "encoding": {"y": {"field": "level", "type": "quantitative"}}
        },
        {
          "data": {"values": [{"label": "GatorCust 0.000261 -0.000049"}]},
          "mark": {"type": "text", "align": "left", "baseline": "middle"},
          "encoding": {
            "x": {"datum": 0.55, "type": "quantitative"},
            "y": {"datum": 0.00179, "type": "quantitative"},
            "text": {"field": "label"}
          }
        }
      ]
    }
  ]
}
